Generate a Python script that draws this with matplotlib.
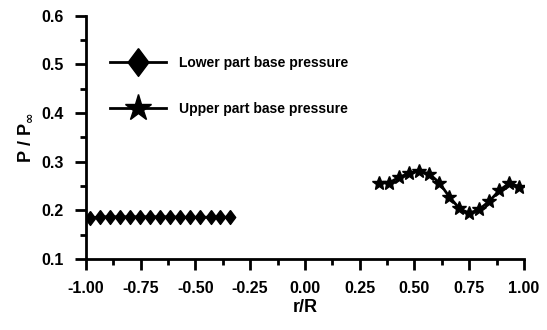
import matplotlib
matplotlib.use("Agg")
import matplotlib.pyplot as plt
from matplotlib.ticker import MultipleLocator, FormatStrFormatter

plt.rcParams['font.family'] = ['Liberation Sans', 'DejaVu Sans']
plt.rcParams['font.weight'] = 'bold'

# lower part (diamonds)
r_lower = [-0.98, -0.934, -0.889, -0.843, -0.797, -0.751, -0.706, -0.66,
           -0.614, -0.569, -0.523, -0.477, -0.431, -0.386, -0.34]
p_lower = [0.184, 0.187, 0.187, 0.187, 0.187, 0.187, 0.187, 0.187,
           0.187, 0.186, 0.186, 0.186, 0.186, 0.186, 0.186]

# upper part (stars)
r_upper = [0.338, 0.385, 0.429, 0.475, 0.522, 0.568, 0.613, 0.659,
           0.705, 0.75, 0.795, 0.842, 0.887, 0.933, 0.978]
p_upper = [0.256, 0.257, 0.268, 0.276, 0.281, 0.275, 0.257, 0.228,
           0.204, 0.194, 0.202, 0.219, 0.241, 0.256, 0.249]

# slightly tall diamond, like the original
diamond = [(0, 1), (0.75, 0), (0, -1), (-0.75, 0), (0, 1)]

fig = plt.figure(figsize=(5.47, 3.30), dpi=100)
ax = fig.add_axes([0.157, 0.215, 0.801, 0.737])

ax.plot(r_lower, p_lower, color='black', lw=2, marker=diamond, ms=10,
        label='Lower part base pressure')
ax.plot(r_upper, p_upper, color='black', lw=2, marker='*', ms=10,
        label='Upper part base pressure')

ax.set_xlim(-1.0, 1.0)
ax.set_ylim(0.1, 0.6)
ax.xaxis.set_major_locator(MultipleLocator(0.25))
ax.xaxis.set_minor_locator(MultipleLocator(0.125))
ax.yaxis.set_major_locator(MultipleLocator(0.1))
ax.yaxis.set_minor_locator(MultipleLocator(0.05))
ax.xaxis.set_major_formatter(FormatStrFormatter('%.2f'))
ax.yaxis.set_major_formatter(FormatStrFormatter('%.1f'))

for s in ['top', 'right']:
    ax.spines[s].set_visible(False)
for s in ['left', 'bottom']:
    ax.spines[s].set_linewidth(2)

ax.tick_params(which='major', direction='out', length=8, width=2,
               labelsize=11.5, pad=8)
ax.tick_params(which='minor', direction='out', length=4.5, width=2)

ax.set_xlabel('r/R', fontsize=13, fontweight='bold', labelpad=2)
ax.set_ylabel(r'P / P$_\infty$', fontsize=13, fontweight='bold', labelpad=5)

leg = ax.legend(loc='center left', bbox_to_anchor=(0.055, 0.712), frameon=False,
                fontsize=10, markerscale=2.0, handlelength=4.0,
                labelspacing=2.3, handletextpad=0.95,
                borderpad=0, borderaxespad=0)

fig.savefig('out.png', dpi=100)
